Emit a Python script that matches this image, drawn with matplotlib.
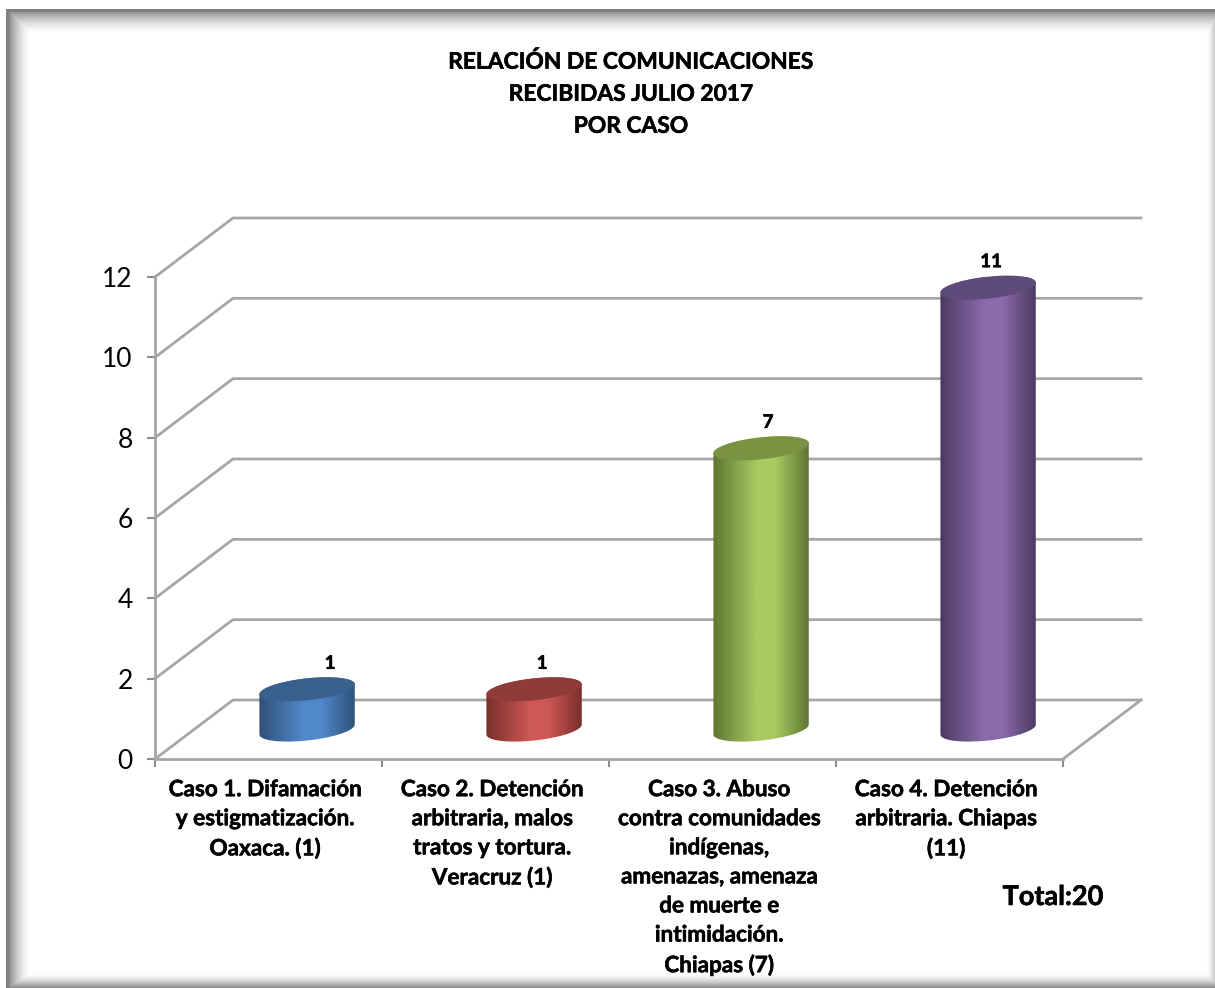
import matplotlib
matplotlib.use('Agg')
import matplotlib.pyplot as plt
import matplotlib.patheffects as pe
import numpy as np
from matplotlib.colors import LinearSegmentedColormap
from matplotlib.patches import Polygon

plt.rcParams['font.family'] = ['Lato', 'DejaVu Sans']

# data
casos = ['Caso 1. Difamación\ny estigmatización.\nOaxaca. (1)',
         'Caso 2. Detención\narbitraria, malos\ntratos y tortura.\nVeracruz (1)',
         'Caso 3. Abuso\ncontra comunidades\nindígenas,\namenazas, amenaza\nde muerte e\nintimidación.\nChiapas (7)',
         'Caso 4. Detención\narbitraria. Chiapas\n(11)']
valores = [1, 1, 7, 11]
y_ticks = [0, 2, 4, 6, 8, 10, 12]
titulo = 'RELACIÓN DE COMUNICACIONES\nRECIBIDAS JULIO 2017\nPOR CASO'
total = 'Total:20'

# colours: edge of cylinder, middle of cylinder, top ellipse
borde = ['#2f5078', '#7a2f2c', '#5f7632', '#4c3a63']
centro = ['#5189cb', '#ce5855', '#a8cb62', '#8b6bab']
tapa = ['#3a608f', '#8f3b39', '#7a9343', '#5f4a7c']
label_dx = [23, 8, 7, 3]

W, H = 1215, 988
fig = plt.figure(figsize=(W / 100, H / 100), dpi=100)
grueso = [pe.withStroke(linewidth=0.4, foreground='black')]

# beveled frame behind everything
bg = fig.add_axes([0, 0, 1, 1], zorder=0)
xx, yy = np.meshgrid(np.arange(W), np.arange(H))
def fade(dist, width, dark):
    return np.clip(1 - dist / width, 0, 1) ** 1.6 * dark
shade = np.maximum.reduce([
    fade(xx - 6, 24, 0.55),
    fade(yy - 10, 24, 0.50),
    fade(1214 - xx, 8, 0.20),
    fade(987 - yy, 14, 0.45),
])
img = 1 - shade
img[(xx < 6) | (yy < 10)] = 1
img[(xx >= 6) & (xx < 9) & (yy >= 10)] = 0.5
img[(yy >= 10) & (yy < 13) & (xx >= 6)] = 0.5
bg.imshow(img, cmap='gray', vmin=0, vmax=1, aspect='auto', extent=(0, W, H, 0))
bg.axis('off')

ax = fig.add_axes([155 / W, 1 - 759 / H, 908 / W, 482 / H], zorder=1)
ax.patch.set_alpha(0)
gris = '#a6a6a6'

# depth of the 3d box in data units
dx = 78 / 227
dy = 59 / (482 / 12)

for v in y_ticks:
    ax.plot([0, dx, 4 + dx], [v, v + dy, v + dy], color=gris, lw=2, clip_on=False, zorder=1)
ax.plot([4, 4 + dx], [0, dy], color=gris, lw=2, clip_on=False, zorder=1)

# cylinders
a = 0.21
b = 0.274
tilt = 0.124
t = np.linspace(0, 2 * np.pi, 121)
ex = a * np.cos(t)
ey = tilt * np.cos(t) + b * np.sin(t)
base = dy / 2
for i, v in enumerate(valores):
    cx = i + 0.5 + 0.17
    top = base + v
    low = t >= np.pi
    up = t <= np.pi
    body = np.vstack([np.column_stack([cx + ex[low], base + ey[low]]),
                      np.column_stack([cx + ex[up], top + ey[up]])])
    cmap = LinearSegmentedColormap.from_list('c', [borde[i], centro[i], centro[i], borde[i]])
    grad = np.interp(np.linspace(0, 1, 256), [0, 0.5, 0.62, 1], [0, 0.36, 0.64, 1]).reshape(1, -1)
    im = ax.imshow(grad, cmap=cmap, aspect='auto', zorder=3, clip_on=True,
                   extent=(cx - a, cx + a, base - 0.5, top + 0.5))
    im.set_clip_path(Polygon(body, transform=ax.transData))
    ax.add_patch(Polygon(np.column_stack([cx + ex, top + ey]), closed=True, facecolor=tapa[i],
                         edgecolor='none', zorder=4, clip_on=False))
    ax.annotate(str(v), (cx, top), xytext=(label_dx[i] * 0.72, 26 * 0.72), textcoords='offset points',
                ha='center', va='center', fontsize=13.5, fontweight='bold', color='black', zorder=5,
                path_effects=grueso)

ax.set_xlim(0, 4)
ax.set_ylim(0, 12)
for s in ['top', 'right']:
    ax.spines[s].set_visible(False)
for s in ['left', 'bottom']:
    ax.spines[s].set_color(gris)
    ax.spines[s].set_linewidth(2)
ax.set_yticks(y_ticks)
ax.set_xticks([0, 1, 2, 3, 4])
ax.set_xticklabels([])
ax.tick_params(axis='both', which='major', color='#8c8c8c', width=1.5, length=6)
ax.tick_params(axis='y', labelsize=19, pad=10, labelcolor='black')
ax.set_xticks(np.arange(4) + 0.485, casos, minor=True)
ax.tick_params(axis='x', which='minor', length=0, pad=14.5, labelsize=16.2)
for lab in ax.get_xticklabels(minor=True):
    lab.set_fontweight('bold')
    lab.set_linespacing(1.475)
    lab.set_va('top')
    lab.set_path_effects(grueso)

fig.text(631 / W, 1 - 94 / H, titulo, ha='center', va='center', fontsize=16.4, fontweight='bold',
         linespacing=1.65, zorder=5, path_effects=grueso)
fig.text(1053 / W, 1 - 897 / H, total, ha='center', va='center', fontsize=19.5, fontweight='bold',
         zorder=5, path_effects=grueso)

fig.savefig('out.png', dpi=100)
